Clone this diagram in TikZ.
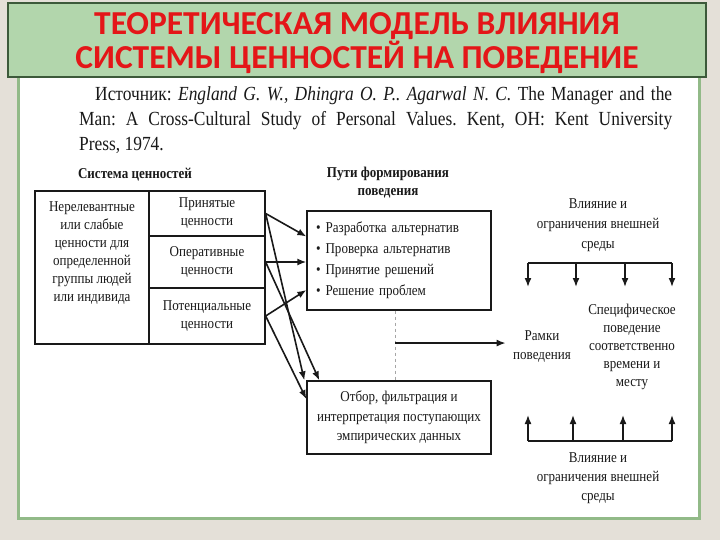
\documentclass[tikz,border=0pt]{standalone}
\usepackage{fontspec}
\setmainfont{Liberation Serif}
\newfontfamily\scanfont[FakeStretch=0.87]{Liberation Serif}
\newfontfamily\titlefont{Carlito}
\usetikzlibrary{calc,arrows.meta}

\definecolor{bgbeige}{RGB}{228,224,216}
\definecolor{titlefill}{RGB}{178,214,172}
\definecolor{titleline}{RGB}{60,90,58}
\definecolor{titlered}{RGB}{228,22,24}
\definecolor{panelgreen}{RGB}{146,186,136}
\definecolor{ink}{RGB}{25,25,25}

\newcommand\diagfont{\scanfont\fontsize{15}{18}\selectfont}

\begin{document}
\begin{tikzpicture}[x=1pt,y=-1pt,>={Latex[length=9pt,width=7pt]},
  cell/.style={draw=ink,line width=1.3pt,font=\diagfont,text=ink,align=center,inner sep=0pt},
  caption/.style={font=\diagfont,text=ink,align=center},
  link/.style={draw=ink,line width=1.6pt,->}]
  \useasboundingbox (0,0) rectangle (720,540);
  \fill[bgbeige] (0,0) rectangle (720,540);
  \draw[panelgreen,line width=3pt,fill=white] (18,76) rectangle (699,518);

  % title
  \node[draw=titleline,fill=titlefill,line width=1.2pt,minimum width=698pt,minimum height=74pt] (titlebox) at (357,40) {};
  \node[align=center,text=titlered,font=\titlefont\bfseries\fontsize{33.5}{31}\selectfont] (title) at (357,43)
    {ТЕОРЕТИЧЕСКАЯ МОДЕЛЬ ВЛИЯНИЯ\\СИСТЕМЫ ЦЕННОСТЕЙ НА ПОВЕДЕНИЕ};

  \node[anchor=north west,align=left,inner sep=0pt,text=ink,font=\scanfont\fontsize{20}{25}\selectfont\frenchspacing] (source) at (79,86)
    {\hspace*{16pt}\makebox[577pt][s]{Источник: \textit{England G. W., Dhingra O. P.. Agarwal N. C.} The Manager and the}\\
     \makebox[593pt][s]{Man: A Cross-Cultural Study of Personal Values. Kent, OH: Kent University}\\
     Press, 1974.};

  % value system
  \node[caption,font=\diagfont\bfseries] (valuesys) at (135,175) {Система ценностей};
  \node[cell,minimum width=114pt,minimum height=153pt] (weak) at (92,267.5) {};
  \node[caption] (weaktext) at ([yshift=14pt]weak.center)
    {Нерелевантные\\или слабые\\ценности для\\определенной\\группы людей\\или индивида};
  \node[cell,minimum width=116pt,minimum height=45pt] (accepted) at (207,213.5) {Принятые\\ценности};
  \node[cell,minimum width=116pt,minimum height=52pt] (operative) at (207,262) {Оперативные\\ценности};
  \node[cell,minimum width=116pt,minimum height=56pt] (potential) at (207,316) {Потенциальные\\ценности};

  % ways of forming behaviour
  \node[caption,font=\diagfont\bfseries] (waysttl) at (388,183) {Пути формирования\\поведения};
  \node[draw=ink,line width=1.3pt,minimum width=184pt,minimum height=99pt,inner xsep=9pt,text width=166pt,
        align=left,text=ink,font=\scanfont\fontsize{15}{21}\selectfont] (ways) at (399,260.5)
    {• Разработка альтернатив\\• Проверка альтернатив\\• Принятие решений\\• Решение проблем};
  \node[draw=ink,line width=1.3pt,minimum width=184pt,minimum height=73pt,align=center,text=ink,
        font=\scanfont\fontsize{15}{19.5}\selectfont] (filter) at (399,417.5)
    {Отбор, фильтрация и\\интерпретация поступающих\\эмпирических данных};

  \draw[link] (accepted.east) -- ([yshift=24pt]ways.west);
  \draw[link] (operative.east) -- (operative.east -| ways.west);
  \draw[link] (potential.east) -- ([yshift=-29.5pt]ways.west);
  \draw[link] (accepted.east) -- ([xshift=-2pt]filter.north west);
  \draw[link] (operative.east) -- ([xshift=13pt]filter.north west);
  \draw[link] (potential.east) -- ([yshift=18.5pt]filter.west);

  % behaviour and environment
  \node[caption,font=\scanfont\fontsize{15}{20}\selectfont] (topenv) at (598,225)
    {Влияние и\\ограничения внешней\\среды};
  \node[caption,font=\scanfont\fontsize{15}{19}\selectfont] (frame) at (542,347) {Рамки\\поведения};
  \node[caption] (specific) at (632,347)
    {Специфическое\\поведение\\соответственно\\времени и\\месту};
  \node[caption,font=\scanfont\fontsize{15}{19}\selectfont] (botenv) at (598,478)
    {Влияние и\\ограничения внешней\\среды};

  \draw[gray!70,line width=1pt,dashed] ([xshift=-4pt]ways.south) -- ([xshift=-4pt]filter.north);
  \coordinate (junction) at ($([xshift=-4pt]ways.south)!0.465!([xshift=-4pt]filter.north)$);
  \draw[link] (junction) -- ([xshift=-4pt]junction -| frame.west);

  \draw[ink,line width=1.6pt] (528,263) -- (672,263);
  \foreach \x in {528,576,625,672}
    \draw[link] (\x,263) -- (\x,287);
  \draw[ink,line width=1.6pt] (528,441) -- (672,441);
  \foreach \x in {528,573,623,672}
    \draw[link] (\x,441) -- (\x,415);
\end{tikzpicture}
\end{document}
